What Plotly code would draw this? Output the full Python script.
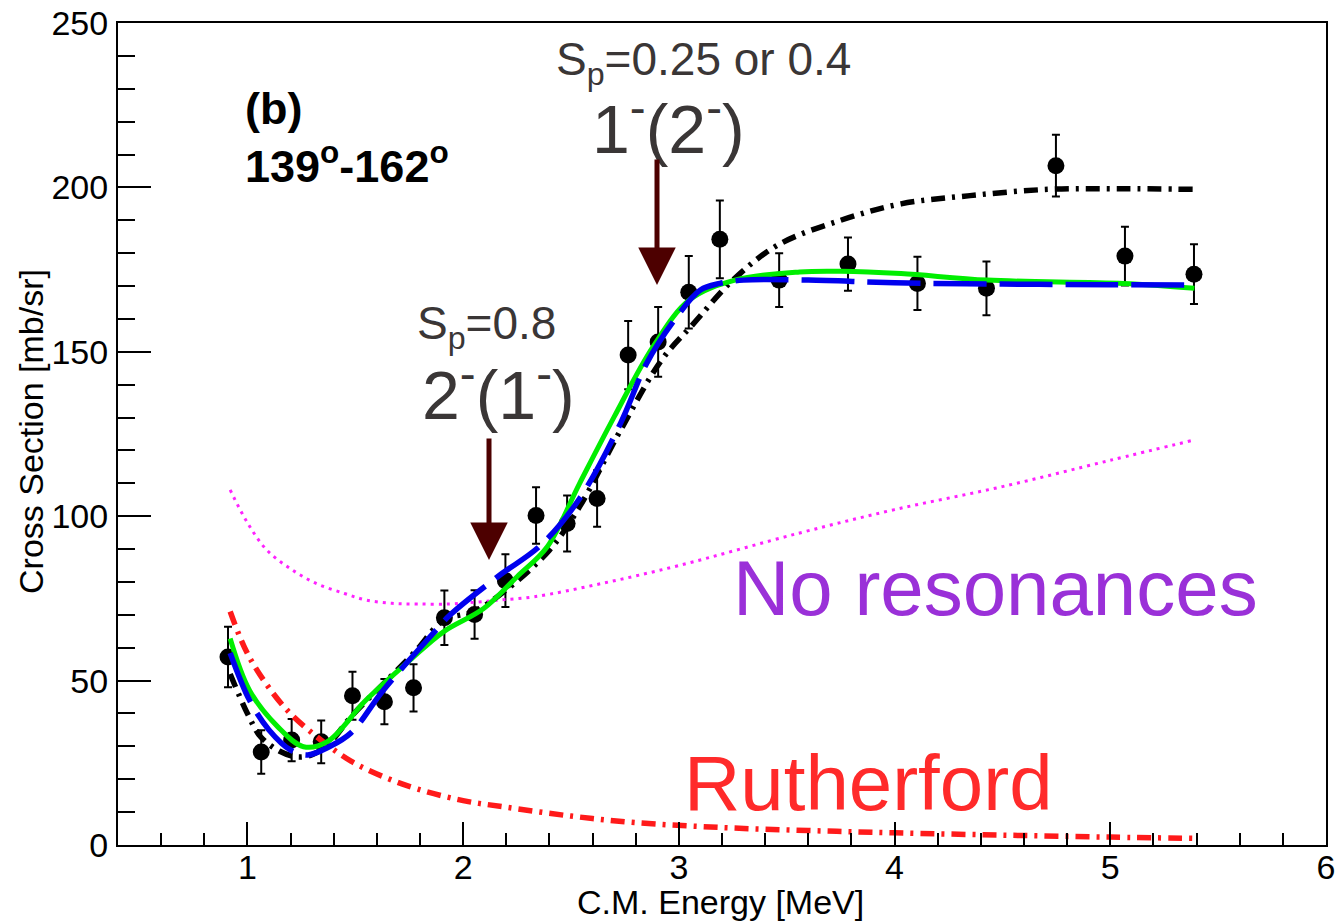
import plotly.graph_objects as go

# ---------------- data ----------------
x_data = [0.91, 1.064, 1.205, 1.342, 1.487, 1.635, 1.770, 1.913, 2.053, 2.196, 2.338, 2.482,
          2.621, 2.765, 2.904, 3.046, 3.190, 3.465, 3.784, 4.106, 4.426, 4.748, 5.068, 5.388]
y_data = [57.2, 28.3, 31.9, 31.4, 45.4, 43.6, 47.8, 69.1, 70.1, 80.4, 100.2, 97.8,
          105.4, 149.0, 153.0, 168.1, 184.2, 171.8, 176.7, 170.8, 169.3, 206.6, 179.1, 173.6]
y_err = [9.2, 6.6, 6.4, 6.5, 7.3, 6.9, 7.2, 8.3, 7.4, 8.0, 8.6, 8.5,
         8.6, 10.4, 10.6, 11.0, 11.8, 8.2, 8.1, 8.1, 8.2, 9.4, 8.9, 9.1]

black_x = [0.92, 1.0, 1.06, 1.15, 1.23, 1.30, 1.38, 1.48, 1.63, 1.78, 1.91, 2.05, 2.20, 2.40,
           2.54, 2.73, 2.92, 3.07, 3.25, 3.46, 3.75, 4.03, 4.35, 4.71, 5.05, 5.39]
black_y = [52, 40, 33, 28.5, 26.8, 27.5, 31, 39, 49, 59, 68.4, 71, 77.6, 89.7,
           102.9, 126.2, 147.5, 158.7, 171.8, 182.5, 190, 195, 197.5, 199.4, 199.6, 199.4]

green_x = [0.92, 1.01, 1.14, 1.26, 1.37, 1.55, 1.755, 1.91, 2.095, 2.25, 2.39, 2.54, 2.70,
           2.88, 3.05, 3.26, 3.56, 3.75, 4.03, 4.43, 5.06, 5.39]
green_y = [62.8, 47, 36, 29.9, 31.4, 44.1, 56.3, 64.9, 71.9, 81.6, 90.7, 110, 130.2,
           151.5, 165.8, 171.8, 174.3, 174.5, 173.8, 171.8, 170.8, 169.3]

blue_x = [0.92, 1.01, 1.10, 1.20, 1.28, 1.38, 1.48, 1.63, 1.86, 1.94, 2.16, 2.36, 2.54,
          2.73, 2.85, 2.98, 3.10, 3.19, 3.30, 3.6, 4.0, 4.5, 5.0, 5.39]
blue_y = [58.4, 44, 35, 28.9, 27.4, 29.9, 34.1, 47.1, 64.3, 70, 81.6, 91.2, 105.4,
          128.3, 146.4, 159.7, 168.8, 170.8, 171.8, 171.8, 171, 170.6, 170.4, 170.3]

nores_x = [0.92, 1.0, 1.09, 1.2, 1.32, 1.45, 1.55, 1.67, 1.79, 1.94, 2.05, 2.17, 2.33,
           2.64, 3.0, 3.56, 4.0, 4.5, 5.0, 5.39]
nores_y = [108, 98, 89.7, 84, 79.5, 76.5, 74.5, 73.5, 73.3, 73.3, 73.8, 74.5, 75.5,
           79.5, 85, 94.9, 102, 109, 117, 123.2]

ruth_x = [0.92, 1.01, 1.17, 1.32, 1.48, 1.64, 1.79, 2.0, 2.2, 2.5, 2.8, 3.2, 3.6, 4.0,
          4.5, 5.0, 5.4]
ruth_y = [71, 57, 42, 33, 25.5, 20.5, 17, 13.5, 11.5, 8.8, 6.8, 5.3, 4.4, 3.7,
          3.0, 2.4, 2.0]

x_ticks = [1, 2, 3, 4, 5, 6]
y_ticks = [0, 50, 100, 150, 200, 250]
x_title = "C.M. Energy [MeV]"
y_title = "Cross Section [mb/sr]"

# ---------------- layout geometry (pixels -> data helpers) ----------------
W, H = 1336, 922
L, R, T, B = 118, 10, 23, 77
XMIN, XMAX, YMIN, YMAX = 0.4, 6.0, 0, 250
pw, ph = W - L - R, H - T - B


def px2x(p):
    return XMIN + (p - L) / pw * (XMAX - XMIN)


def py2y(p):
    return YMIN + (T + ph - p) / ph * (YMAX - YMIN)


def px2paper(p):
    return (p - L) / pw


def py2paper(p):
    return (T + ph - p) / ph


FONT = "Liberation Sans, Arial, Helvetica, sans-serif"

fig = go.Figure()

fig.add_trace(go.Scatter(
    x=x_data, y=y_data, mode="markers",
    marker=dict(color="black", size=17),
    error_y=dict(type="data", array=y_err, visible=True, color="black",
                 thickness=2, width=4),
    showlegend=False))

fig.add_trace(go.Scatter(x=nores_x, y=nores_y, mode="lines", line_shape="spline",
                         line=dict(color="#ff22ff", width=3, dash="3px,5px"),
                         showlegend=False))
fig.add_trace(go.Scatter(x=ruth_x, y=ruth_y, mode="lines", line_shape="spline",
                         line=dict(color="#ff1a1a", width=5.5, dash="14px,7px,3px,7px"),
                         showlegend=False))
fig.add_trace(go.Scatter(x=black_x, y=black_y, mode="lines", line_shape="spline",
                         line=dict(color="black", width=5.5, dash="14px,7px,3px,7px"),
                         showlegend=False))
fig.add_trace(go.Scatter(x=green_x, y=green_y, mode="lines", line_shape="spline",
                         line=dict(color="#00ee00", width=5),
                         showlegend=False))
fig.add_trace(go.Scatter(x=blue_x, y=blue_y, mode="lines", line_shape="spline",
                         line=dict(color="#0000ee", width=5.5, dash="53px,13px"),
                         showlegend=False))

annots = []


def txt(text, px, py, size, color, bold=False, xanchor="center", yanchor="middle"):
    annots.append(dict(
        x=px2x(px), y=py2y(py), xref="x", yref="y", text=text, showarrow=False,
        xanchor=xanchor, yanchor=yanchor,
        font=dict(family=FONT, size=size, color=color,
                  weight="bold" if bold else "normal")))


txt("(b)", 243, 108, 45, "black", bold=True, xanchor="left")
txt("139<sup>o</sup>-162<sup>o</sup>", 243, 163, 45, "black", bold=True, xanchor="left")
txt("S<sub>p</sub>=0.25 or 0.4", 703, 62, 46, "#3a3636")
txt("1<sup>-</sup>(2<sup>-</sup>)", 668, 124, 68, "#3a3636")
txt("S<sub>p</sub>=0.8", 486, 326, 46, "#3a3636")
txt("2<sup>-</sup>(1<sup>-</sup>)", 498, 390, 68, "#3a3636")
txt("No resonances", 995, 588, 78, "#9a30d8")
txt("Rutherford", 868, 783, 78, "#ff2a2a")

# axis titles placed in pixel positions (converted to paper coordinates)
annots.append(dict(x=px2paper(720), y=py2paper(902), xref="paper", yref="paper",
                   text=x_title, showarrow=False, xanchor="center", yanchor="middle",
                   font=dict(family=FONT, size=34, color="black")))
annots.append(dict(x=px2paper(31), y=py2paper(432), xref="paper", yref="paper",
                   text=y_title, showarrow=False, xanchor="center", yanchor="middle",
                   textangle=-90, font=dict(family=FONT, size=34, color="black")))

for tip_px, tip_py, tail_py in [(657, 285, 158), (489, 560, 437)]:
    annots.append(dict(
        x=px2x(tip_px), y=py2y(tip_py), xref="x", yref="y",
        ax=0, ay=tail_py - tip_py, axref="pixel", ayref="pixel",
        showarrow=True, arrowhead=2, arrowsize=1.5, arrowwidth=5,
        arrowcolor="#4d0000", text=""))

fig.update_layout(
    width=W, height=H,
    margin=dict(l=L, r=R, t=T, b=B, pad=0, autoexpand=False),
    paper_bgcolor="white", plot_bgcolor="white",
    font=dict(family=FONT, size=34, color="black"),
    annotations=annots,
    xaxis=dict(
        range=[XMIN, XMAX], tickvals=x_ticks, ticktext=[str(v) for v in x_ticks],
        ticks="inside", ticklen=23, tickwidth=2, tickcolor="black",
        minor=dict(dtick=0.2, tick0=0, ticks="inside", ticklen=12, tickwidth=2,
                   tickcolor="black"),
        showline=True, linewidth=2, linecolor="black", mirror=True,
        showgrid=False, zeroline=False, automargin=False,
        tickfont=dict(size=34), ticklabelstandoff=-9),
    yaxis=dict(
        range=[YMIN, YMAX], tickvals=y_ticks, ticktext=[str(v) for v in y_ticks],
        ticks="inside", ticklen=33, tickwidth=2, tickcolor="black",
        minor=dict(dtick=10, tick0=0, ticks="inside", ticklen=17, tickwidth=2,
                   tickcolor="black"),
        showline=True, linewidth=2, linecolor="black", mirror=True,
        showgrid=False, zeroline=False, automargin=False,
        tickfont=dict(size=34), ticklabelstandoff=1),
)

fig.write_html("out.html")
